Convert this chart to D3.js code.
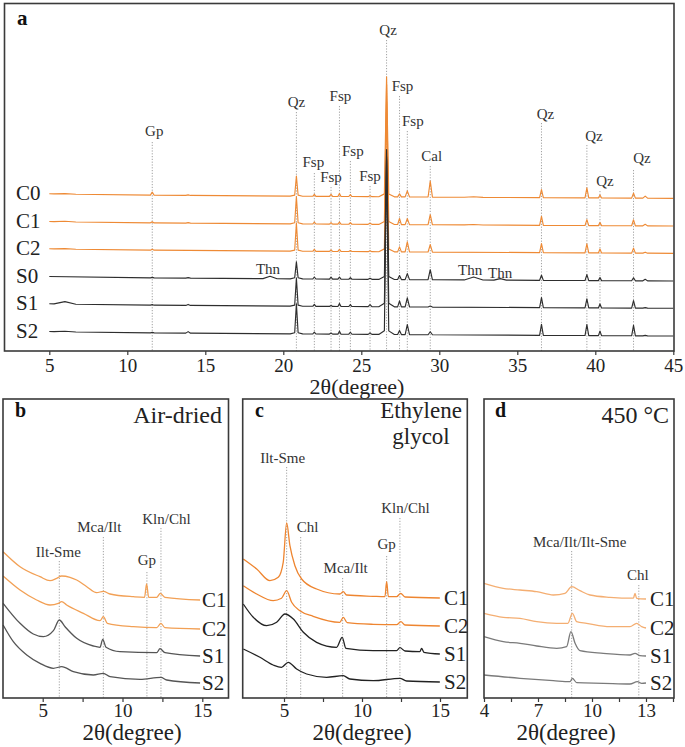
<!DOCTYPE html>
<html><head><meta charset="utf-8">
<script src="https://cdn.jsdelivr.net/npm/d3@7"></script>
<style>
body{margin:0;background:#fff}
svg{display:block}
</style>
</head><body>
<svg id="chart" width="685" height="747"></svg>
<script>
// ================= DATA =================
// ---- panel a : bulk XRD, peak table ----
const samplesA = ["C0", "C1", "C2", "S0", "S1", "S2"];
const peakAngles =     [6.0, 11.6, 13.9, 19.15, 20.84, 20.84, 21.99, 23.06, 23.6, 24.3, 25.56, 26.62, 26.62, 27.45, 27.95, 29.42, 32.2, 33.9, 36.55, 39.46, 40.3, 42.45, 43.2];
const peakHalfWidths = [0.7, 0.12, 0.15, 0.45, 0.11, 0.4, 0.1, 0.1, 0.1, 0.1, 0.12, 0.14, 0.5, 0.12, 0.14, 0.14, 0.6, 0.4, 0.12, 0.12, 0.1, 0.12, 0.15];
const heightsA = [
  [0.5, 3, 0.5, 0, 18.5, 1.5, 2, 2, 3, 2, 1, 116, 4, 3, 6, 16, 0.5, 0, 8, 10, 3, 5, 2],      // C0
  [0.5, 1, 0.5, 0, 25.5, 1.5, 2, 1.5, 2, 1.5, 1, 136, 4, 6, 6, 10, 0.5, 0, 9, 6, 3, 6, 1.5], // C1
  [0.5, 1, 0, 0, 26.5, 1.5, 2, 1.5, 2, 1, 1, 146, 4, 5, 10, 7.5, 0, 0, 9, 9, 4, 5, 1],       // C2
  [0, 0.5, 0.5, 2.5, 15.5, 1.5, 2, 2, 2, 1.5, 1, 126, 4, 4, 6, 10, 3, 1.5, 5, 6, 3, 3, 1.5],// S0
  [2.5, 0.5, 1, 0, 26.5, 1.5, 2, 1, 3, 2, 2, 145, 5, 6, 9, 1, 0, 0, 10, 9, 4, 7.5, 0.5],   // S1
  [0.5, 0.5, 1.5, 0, 28.5, 1.5, 2, 1, 3, 2, 1.5, 170, 5, 4, 10, 3, 0, 0, 11, 11, 4.5, 10.5, 0.5] // S2
];
const backgroundAngles = [5, 6, 10, 20, 30, 45];
const backgroundValues = [4.5, 4.2, 3.3, 2.2, 1.2, 0];
const ticksA = [5, 10, 15, 20, 25, 30, 35, 40, 45];
const annotA = [
  ["Gp", 11.6], ["Qz", 20.84], ["Fsp", 21.99], ["Fsp", 23.06], ["Fsp", 23.6], ["Fsp", 24.3],
  ["Fsp", 25.56], ["Qz", 26.62], ["Fsp", 27.45], ["Fsp", 27.95], ["Cal", 29.42],
  ["Qz", 36.55], ["Qz", 39.46], ["Qz", 40.3], ["Qz", 42.45]
];
const thnAngles = [19.15, 32.2, 33.9];

// ---- panels b, c, d : clay fractions, [2theta, relative intensity] ----
const samplesBCD = ["C1", "C2", "S1", "S2"];
const airC1 = [[2.52,48.3],[3.58,33.3],[4.83,23.3],[5.46,19.3],[5.88,21.7],[6.19,24],[6.71,22.7],[7.13,20],[7.76,13.3],[8.38,7.3],[8.8,8.7],[9.22,6],[10.68,3.3],[11.38,2.7],[11.51,16],[11.64,2.7],[12.14,2.7],[12.37,6.7],[12.66,2.7],[14.86,0]];
const airC2 = [[2.52,53],[3.58,39],[4.62,29],[5.46,24],[5.98,25.7],[6.19,27.3],[6.5,24],[7.55,15.7],[8.59,8.3],[8.8,12.3],[9.05,5.7],[10.68,2.3],[12.14,1.3],[12.41,5.7],[12.66,1.3],[14.86,0]];
const airS1 = [[2.52,52.7],[3.58,32.7],[4.41,22],[5.04,19.3],[5.67,25.3],[6.04,36],[6.4,29.3],[7.13,17.7],[8.17,10],[8.59,8.7],[8.76,16.7],[8.97,8.7],[9.84,4.3],[12.14,3.3],[12.35,7.3],[12.66,3.3],[14.86,0]];
const airS2 = [[2.52,58],[3.16,41.3],[4.0,28],[4.83,19.7],[5.67,14.7],[6.19,16.3],[6.92,11.3],[8.17,8],[8.8,9.7],[9.22,6.3],[11.1,3.7],[12.41,5.7],[12.77,3],[14.86,0]];

const glyC1 = [[2.39,39],[3.25,29],[4.1,17.3],[4.63,20.7],[4.95,35.7],[5.17,75],[5.38,52.3],[5.7,32.3],[6.13,19],[7.09,9],[8.58,4],[8.8,6.3],[9.01,3],[10.72,1.7],[11.47,1.3],[11.58,16.3],[11.69,1.3],[12.22,1.3],[12.48,4.7],[12.76,1],[14.99,0]];
const glyC2 = [[2.39,40.3],[3.25,32],[4.31,25.3],[4.84,27.7],[5.17,35.3],[5.49,23.7],[6.02,15.3],[6.87,9.7],[8.58,3.7],[8.8,8.7],[9.05,3.3],[10.72,1.7],[12.22,1.3],[12.49,4.3],[12.76,1],[14.99,0]];
const glyS1 = [[2.39,50],[3.03,36.7],[3.89,28.3],[4.53,31.7],[5.06,40],[5.6,35],[6.24,21.7],[7.09,11.7],[8.37,6.7],[8.73,16.7],[8.97,5.7],[10.72,3.3],[12.22,3.3],[12.43,6.3],[12.76,3],[13.71,2.3],[13.82,5.7],[13.97,1.7],[14.99,0]];
const glyS2 = [[2.39,33],[3.46,24.7],[4.31,17],[4.84,14.7],[5.27,19.7],[5.81,13],[6.45,8],[7.73,4.7],[8.8,6.3],[9.22,3],[10.72,1.3],[12.43,3.7],[12.86,1],[14.99,0]];

const heatC1 = [[4.0,15.7],[5.07,10.7],[6.0,9],[6.93,7.3],[7.85,4],[8.5,5.7],[8.87,12.3],[9.33,8.3],[9.89,4],[11.0,1.7],[12.3,0.8],[12.39,5.7],[12.48,0.7],[13.0,0]];
const heatC2 = [[4.0,14.7],[5.07,10.7],[6.0,9.7],[6.93,6.3],[8.04,4.7],[8.66,4.7],[8.91,14.7],[9.15,6.3],[9.7,4.7],[11.0,1.3],[12.11,1.3],[12.48,4.7],[12.76,1.3],[13.0,0]];
const heatS1 = [[4.0,19.3],[5.07,14.3],[6.0,12.7],[6.93,10],[8.04,7.7],[8.59,9.3],[8.83,24.3],[9.06,12.7],[9.33,5.3],[10.63,2.7],[12.11,1],[12.39,2.7],[12.67,0.3],[13.0,0]];
const heatS2 = [[4.0,8],[6.0,4.7],[7.85,2.3],[8.78,1.3],[8.91,4.7],[9.15,0.3],[10.63,-0.3],[12.11,-1],[12.52,1.3],[12.76,-0.3],[13.0,0]];

const ticksBC = [5, 7.5, 10, 12.5, 15];
const labelsBC = [5, 10, 15];
const ticksD = [4, 5.5, 7, 8.5, 10, 11.5, 13, 14.5];
const labelsD = [4, 7, 10, 13];

const annotB = [["Ilt-Sme", 6.04], ["Mca/Ilt", 8.8], ["Gp", 11.53], ["Kln/Chl", 12.41]];
const annotC = [["Ilt-Sme", 5.17], ["Chl", 6.07], ["Mca/Ilt", 8.76], ["Gp", 11.58], ["Kln/Chl", 12.43]];
const annotD = [["Mca/Ilt/Ilt-Sme", 8.87], ["Chl", 12.6]];

// ================= LAYOUT / STYLE =================
const SERIF = "Liberation Serif";
const ORANGE_A = "#EE8A35", DARK_A = "#2e2e2e";
const svg = d3.select("#chart");
const FRAME = "#3a3a3a";

function frame(x0, y0, x1, y1) {
  svg.append("rect").attr("x", x0).attr("y", y0).attr("width", x1 - x0).attr("height", y1 - y0)
    .attr("fill", "none").attr("stroke", FRAME).attr("stroke-width", 1.6);
}
function text(x, y, s, size, opts = {}) {
  return svg.append("text").attr("x", x).attr("y", y).text(s)
    .attr("font-family", SERIF)
    .attr("font-size", size).attr("fill", opts.fill || "#222")
    .attr("text-anchor", opts.anchor || "start")
    .attr("font-weight", opts.bold ? "bold" : "normal");
}
function axis(x, yPos, tickVals, labelVals, padding) {
  const g = svg.append("g").attr("transform", `translate(0,${yPos})`)
    .call(d3.axisBottom(x).tickValues(tickVals).tickSize(4).tickSizeOuter(0).tickPadding(padding)
      .tickFormat(d => labelVals.includes(d) ? d : ""));
  g.attr("font-family", SERIF).attr("font-size", 19);
  g.select(".domain").remove();
  g.selectAll(".tick line").attr("stroke", FRAME).attr("stroke-width", 1.2);
  g.selectAll(".tick text").attr("font-size", 19).attr("fill", "#222").attr("font-family", SERIF);
}
function dotted(x, y0, y1) {
  svg.append("line").attr("x1", x).attr("x2", x).attr("y1", y0).attr("y2", y1)
    .attr("stroke", "#8a8a8a").attr("stroke-width", 0.8).attr("stroke-dasharray", "1.2,1.6");
}

// ================= PANEL a =================
const xA = d3.scaleLinear().domain([5, 45]).range([49.3, 673.3]);
const yA = d3.scaleLinear().domain([0, 300]).range([351, 51]);
const offsetsA = [152.7, 125, 97.7, 70, 42.7, 15];
const bgA = d3.scaleLinear().domain(backgroundAngles).range(backgroundValues);

function buildTraceA(h) {
  const xs = new Set([5, 45]);
  peakAngles.forEach((a, i) => {
    if (h[i] > 0) { xs.add(a); xs.add(a - peakHalfWidths[i]); xs.add(a + peakHalfWidths[i]); }
  });
  return Array.from(xs).sort((p, q) => p - q).map(x => [x,
    bgA(x) + d3.sum(peakAngles, (a, i) => h[i] > 0 ? Math.max(0, h[i] * (1 - Math.abs(x - a) / peakHalfWidths[i])) : 0)]);
}

// annotation layout: [label dx, label baseline, line top]
const annotALayout = [[2,136,142],[0,107,112],[-1,167,173],[0,182,187],[1,101,106],[2.5,156,161],
  [0,181,186],[1.5,35,40],[3,91,96],[5.5,126,131],[1.5,161,166],[4,119,123],[7,141,145],[5,186,191],[8.5,163,170]];
annotA.forEach(([lab, ang], i) => {
  const [dx, ly, top] = annotALayout[i];
  dotted(xA(ang), top, 351);
  text(xA(ang) + dx, ly, lab, 15, { anchor: "middle", fill: "#333" });
});
const thnLayout = [[-2, 274], [-3.5, 275], [0, 278]];
thnAngles.forEach((a, i) => text(xA(a) + thnLayout[i][0], thnLayout[i][1], "Thn", 15, { anchor: "middle", fill: "#333" }));

const lineA = off => d3.line().x(d => xA(d[0])).y(d => yA(off + d[1]));
samplesA.forEach((s, i) => {
  svg.append("path").datum(buildTraceA(heightsA[i]))
    .attr("d", lineA(offsetsA[i])).attr("fill", "none")
    .attr("stroke", s[0] === "C" ? ORANGE_A : DARK_A).attr("stroke-width", 1.15)
    .attr("stroke-linejoin", "round");
  text(16, yA(offsetsA[i]) + 1.5, s, 21);
});
frame(4.5, 3.5, 674, 351);
axis(xA, 351, ticksA, ticksA, 4);
text(357, 394, "2θ(degree)", 22, { anchor: "middle" });
text(17, 25, "a", 21, { bold: true, fill: "#111" });

// ================= PANELS b, c, d =================
const yBCD = d3.scaleLinear().domain([0, 300]).range([698, 398]);
function clayPanel(cfg) {
  const x = d3.scaleLinear().domain(cfg.domain).range(cfg.range);
  cfg.annots.forEach(([lab, ang], i) => {
    const [dx, ly, top] = cfg.annotLayout[i];
    dotted(x(ang), top, 698);
    text(x(ang) + dx, ly, lab, 15, { anchor: "middle", fill: "#333" });
  });
  [0, 1, 2, 3].forEach(i => {
    const off = cfg.offsets[i];
    svg.append("path").datum(cfg.series[i])
      .attr("d", d3.line().x(d => x(d[0])).y(d => yBCD(off + d[1])).curve(d3.curveMonotoneX))
      .attr("fill", "none").attr("stroke", i < 2 ? cfg.orange : cfg.dark)
      .attr("stroke-width", 1.3).attr("stroke-linejoin", "round");
    text(cfg.labelX, yBCD(off) + 7, samplesBCD[i], 21);
  });
  frame(cfg.frame[0], 399, cfg.frame[1], 698);
  axis(x, 698, cfg.ticks, cfg.tickLabels, 2);
  text(cfg.titleX, 740, "2θ(degree)", 23, { anchor: "middle" });
  text(cfg.letterX, 417, cfg.letter, 20, { bold: true, fill: "#111" });
}

clayPanel({
  domain: [5, 15], range: [42.7, 202.3], frame: [3, 228.5], series: [airC1, airC2, airS1, airS2],
  offsets: [98, 69, 42, 15], orange: "#F2A055", dark: "#555", labelX: 202,
  annots: annotB, annotLayout: [[-1,557,561],[-4,532,537],[0,565,572],[5.5,524,528]],
  ticks: ticksBC, tickLabels: labelsBC, titleX: 132, letter: "b", letterX: 15
});
text(222, 423, "Air-dried", 24, { anchor: "end" });

clayPanel({
  domain: [5, 15], range: [284, 440], frame: [242.7, 467.3], series: [glyC1, glyC2, glyS1, glyS2],
  offsets: [100, 72, 44, 16], orange: "#EE8530", dark: "#222", labelX: 444,
  annots: annotC, annotLayout: [[-4,463,467],[7,532,537],[3,573,578],[0,549,556],[5.5,513,518]],
  ticks: ticksBC, tickLabels: labelsBC, titleX: 362, letter: "c", letterX: 255
});
text(421, 418, "Ethylene", 23, { anchor: "middle" });
text(421, 444, "glycol", 23, { anchor: "middle" });

clayPanel({
  domain: [4, 14.5], range: [484, 673], frame: [484, 674], series: [heatC1, heatC2, heatS1, heatS2],
  offsets: [99, 70, 42, 15], orange: "#F4AE72", dark: "#7a7a7a", labelX: 650,
  annots: annotD, annotLayout: [[8,547,551],[-1,580,585]],
  ticks: ticksD, tickLabels: labelsD, titleX: 566, letter: "d", letterX: 495
});
text(669, 423, "450 °C", 24, { anchor: "end" });
</script>
</body></html>
